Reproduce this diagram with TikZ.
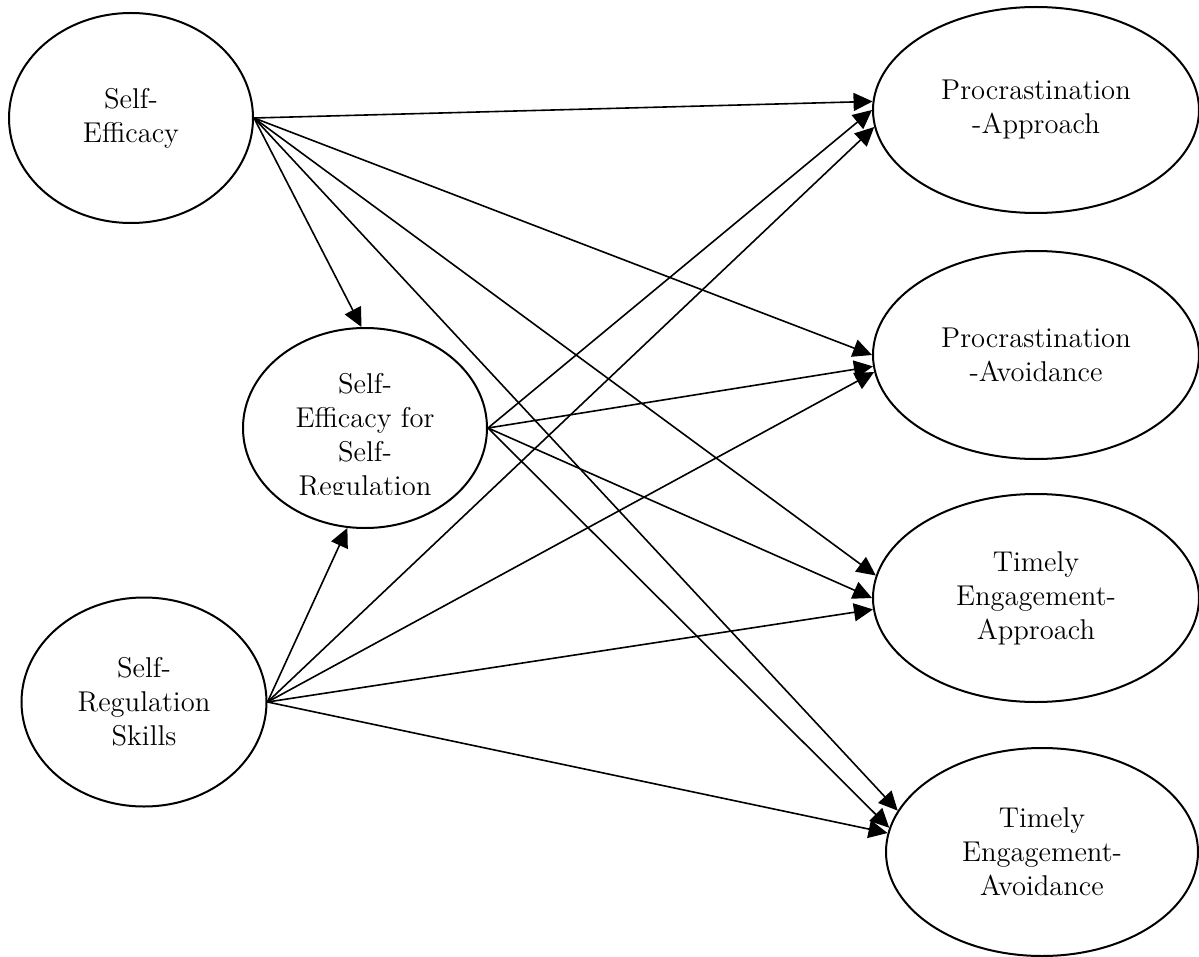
\documentclass[tikz,border=0pt]{standalone}
\usepackage{tikz}
\usetikzlibrary{arrows.meta,shapes.geometric}

\begin{document}
\begin{tikzpicture}[x=0.5pt,y=-0.5pt,->,>={Triangle[length=9.5pt,width=9pt]},line width=0.8pt,
    font=\fontsize{14.3}{17}\selectfont,
    construct/.style={ellipse,draw,line width=1pt,inner sep=0pt,align=center}]
    \useasboundingbox (0,0) rectangle (1199,957);

    \node[construct,minimum width=122pt,minimum height=105pt]   (SE)   at (131,118)  {Self-\\Efficacy};
    \node[construct,minimum width=122pt,minimum height=100pt]   (SESR) at (365,428)  {};
    \node[construct,minimum width=122.5pt,minimum height=104.5pt] (SRS) at (144,702) {Self-\\Regulation\\Skills};
    \node[construct,minimum width=163pt,minimum height=103pt]   (PA)   at (1036,110) {Procrastination\\-Approach};
    \node[construct,minimum width=163pt,minimum height=104pt]   (PV)   at (1036,355) {Procrastination\\-Avoidance};
    \node[construct,minimum width=163pt,minimum height=104pt]   (TA)   at (1036,598) {Timely\\Engagement-\\Approach};
    \node[construct,minimum width=156pt,minimum height=104pt]   (TV)   at (1042,852) {Timely\\Engagement-\\Avoidance};

    % text box of the mediator is cut off at the bottom
    \begin{scope}
      \clip (240,300) rectangle (490,494);
      \node[align=center] (SESRtext) at (365,437) {Self-\\Efficacy for\\Self-\\Regulation};
    \end{scope}

    \path (SE.east)   edge (PA.177)
                      edge (PV.180)
                      edge (TA.172)
                      edge (TV.164)
                      edge (SESR.92)
          (SESR.east) edge (PA.180)
                      edge (PV.184)
                      edge (TA.180)
                      edge (TV.171)
          (SRS.east)  edge (SESR.260)
                      edge (PA.186)
                      edge (PV.186)
                      edge (TA.184)
                      edge (TV.173);
\end{tikzpicture}
\end{document}
